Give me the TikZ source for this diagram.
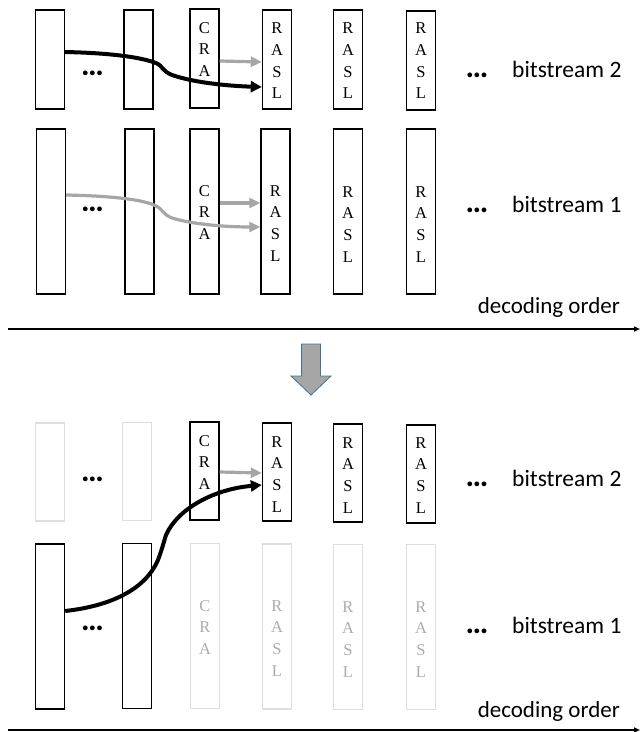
\documentclass[tikz,border=0pt]{standalone}
\usepackage{fontspec}
\setmainfont{Liberation Serif}
\newfontfamily\labelfont{Carlito}
\usetikzlibrary{arrows.meta}
\definecolor{arrowfill}{HTML}{A6A6A6}
\definecolor{arrowedge}{HTML}{41719C}
\definecolor{refgray}{HTML}{A6A6A6}

\begin{document}
\begin{tikzpicture}[x=1pt,y=-1pt,
  frame/.style={draw=black, line width=1.4pt, minimum width=29pt, inner sep=0pt, rectangle},
  ghost/.style={frame, draw=black!13},
  letters/.style={font=\fontsize{16.5}{21.8}\selectfont, align=center, inner sep=0pt, anchor=north},
  ghostletters/.style={letters, text=black!33},
  tag/.style={font=\labelfont\fontsize{23.5}{28}\selectfont, inner sep=0pt, anchor=base west},
  ordertag/.style={tag, font=\labelfont\fontsize{23}{28}\selectfont, anchor=base east},
  dots/.style={font=\labelfont\bfseries\fontsize{32}{36}\selectfont, inner sep=0pt, anchor=base},
  refblack/.style={draw=black, line width=4pt, -{Triangle[length=11pt,width=11pt]}},
  refgrey/.style={draw=refgray, line width=3.2pt, -{Triangle[length=11pt,width=10pt]}},
  axis/.style={draw=black, line width=1.5pt, -{Triangle[length=6pt,width=5pt]}},
  bigarrow/.style={fill=arrowfill, draw=arrowedge, line width=0.8pt}
]
\useasboundingbox (0,0) rectangle (640,732);

% ---------------- upper panel: both bitstreams ----------------
% bitstream 2
\node[frame, minimum height=99pt] (A2c1) at (50,59.5) {};
\node[frame, minimum height=99pt] (A2c2) at (138.5,59.5) {};
\node[frame, minimum height=99pt] (A2c3) at (204.5,58.5) {};
\node[frame, minimum height=99pt] (A2c4) at (277,59.5) {};
\node[frame, minimum height=99pt] (A2c5) at (348,59.5) {};
\node[frame, minimum height=99pt] (A2c6) at (421,60.5) {};
\node[letters] (A2t3) at (204.5,22) {C\\R\\A};
\node[letters] (A2t4) at (277,22.5) {R\\A\\S\\L};
\node[letters] (A2t5) at (348,22.5) {R\\A\\S\\L};
\node[letters] (A2t6) at (421,22.5) {R\\A\\S\\L};
\node[dots] (A2d1) at (92.5,75) {…};
\node[dots] (A2d2) at (477,77) {…};
\node[tag] (A2lab) at (512,77) {bitstream 2};

% bitstream 1
\node[frame, minimum height=165pt] (A1c1) at (51,211.5) {};
\node[frame, minimum height=165pt] (A1c2) at (139.5,211.5) {};
\node[frame, minimum height=165pt] (A1c3) at (204.5,211.5) {};
\node[frame, minimum height=165pt] (A1c4) at (275.5,211.5) {};
\node[frame, minimum height=165pt] (A1c5) at (348,211.5) {};
\node[frame, minimum height=165pt] (A1c6) at (421,211.5) {};
\node[letters] (A1t3) at (204.5,185) {C\\R\\A};
\node[letters] (A1t4) at (275.5,185) {R\\A\\S\\L};
\node[letters] (A1t5) at (348,186) {R\\A\\S\\L};
\node[letters] (A1t6) at (421,186) {R\\A\\S\\L};
\node[dots] (A1d1) at (92.5,211.5) {…};
\node[dots] (A1d2) at (477,212) {…};
\node[tag] (A1lab) at (512,212) {bitstream 1};

% references
\draw[refblack] ([yshift=7.5pt]A2c1.east)
  .. controls (110,53) and (140,57) .. (156,63)
  .. controls (163,66) and (162,71) .. (172,75)
  .. controls (195,83) and (230,86) .. ([yshift=-27.5pt]A2c4.west);
\draw[refgrey] ([yshift=-2.5pt]A2c3.east) -- ([yshift=-2.5pt]A2c4.west);

\draw[refgrey] ([yshift=16.5pt]A1c1.east)
  .. controls (115,196) and (145,200) .. (156,206)
  .. controls (163,209) and (162,214) .. (172,218)
  .. controls (195,225) and (230,227) .. ([yshift=-15.5pt]A1c4.west);
\draw[refgrey] ([yshift=8.5pt]A1c3.east) -- ([yshift=8.5pt]A1c4.west);

% decoding order axis
\coordinate (axA0) at (8,329);
\coordinate (axA1) at (640,329);
\draw[axis] (axA0) -- (axA1);
\node[ordertag] (axAlab) at (620,313) {decoding order};

% ---------------- transition arrow ----------------
\draw[bigarrow] (301.5,344) -- (320.5,344) -- (320.5,376) -- (331,376)
  -- (311,395) -- (291,376) -- (301.5,376) -- cycle;

% ---------------- lower panel: after switching ----------------
% bitstream 2
\node[ghost, minimum height=98pt] (B2c1) at (50,472) {};
\node[ghost, minimum height=98pt] (B2c2) at (137,471.5) {};
\node[frame, minimum height=98pt] (B2c3) at (204.5,471) {};
\node[frame, minimum height=98pt] (B2c4) at (277,472) {};
\node[frame, minimum height=98pt] (B2c5) at (348,473) {};
\node[frame, minimum height=98pt] (B2c6) at (421,474) {};
\node[letters] (B2t3) at (204.5,435) {C\\R\\A};
\node[letters] (B2t4) at (277,436) {R\\A\\S\\L};
\node[letters] (B2t5) at (348,437) {R\\A\\S\\L};
\node[letters] (B2t6) at (421,437) {R\\A\\S\\L};
\node[dots] (B2d1) at (92.5,481) {…};
\node[dots] (B2d2) at (477,486) {…};
\node[tag] (B2lab) at (512,486) {bitstream 2};

% bitstream 1
\node[frame, minimum height=165pt] (B1c1) at (50,626.5) {};
\node[frame, minimum height=165pt] (B1c2) at (137,626) {};
\node[ghost, minimum height=165pt] (B1c3) at (205,626) {};
\node[ghost, minimum height=165pt] (B1c4) at (277,626.5) {};
\node[ghost, minimum height=165pt] (B1c5) at (348,627) {};
\node[ghost, minimum height=165pt] (B1c6) at (421,627) {};
\node[ghostletters] (B1t3) at (205,600) {C\\R\\A};
\node[ghostletters] (B1t4) at (277,600) {R\\A\\S\\L};
\node[ghostletters] (B1t5) at (348,601) {R\\A\\S\\L};
\node[ghostletters] (B1t6) at (421,601) {R\\A\\S\\L};
\node[dots] (B1d1) at (92.5,630) {…};
\node[dots] (B1d2) at (477,633) {…};
\node[tag] (B1lab) at (512,633) {bitstream 1};

% references
\draw[refgrey] ([yshift=-1pt]B2c3.east) -- ([yshift=-1pt]B2c4.west);
\draw[refblack] ([yshift=15.5pt]B1c1.east)
  .. controls (110,606) and (145,590) .. (158,560)
  .. controls (161,552) and (163,545) .. (166,535)
  .. controls (178,508) and (215,489) .. ([yshift=-13pt]B2c4.west);

% decoding order axis
\coordinate (axB0) at (8,730);
\coordinate (axB1) at (640,730);
\draw[axis] (axB0) -- (axB1);
\node[ordertag] (axBlab) at (620,717) {decoding order};
\end{tikzpicture}
\end{document}
